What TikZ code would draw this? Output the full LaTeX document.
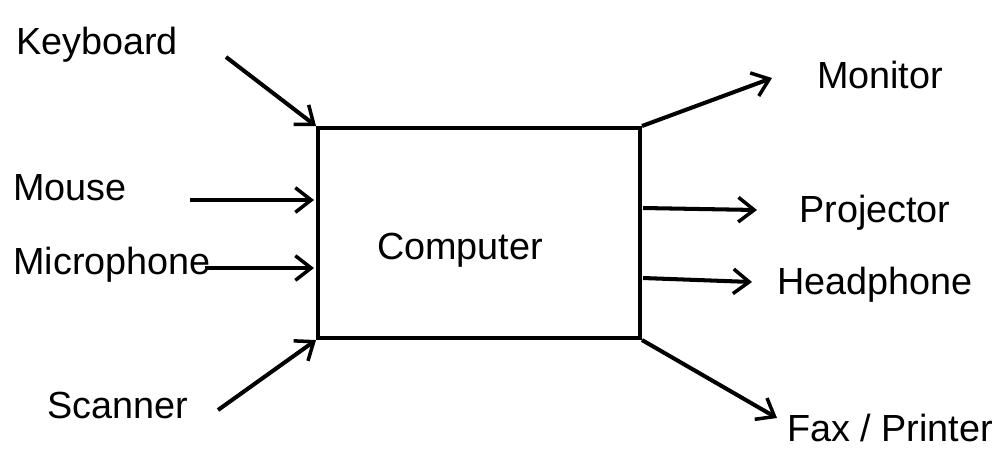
\documentclass[tikz,border=0pt]{standalone}
\usepackage{fontspec}
\setmainfont{Liberation Sans}
\usetikzlibrary{arrows.meta}
\begin{document}
\begin{tikzpicture}[x=0.02cm,y=-0.02cm,
  lbl/.style={font=\fontsize{21.5}{25}\selectfont, inner sep=0pt},
  conn/.style={line width=2.3pt, -{Straight Barb[length=9pt,width=14pt,line width=2pt]}},
  box/.style={draw, line width=2.3pt, minimum width=6.44cm, minimum height=4.2cm, inner sep=0pt}]
\useasboundingbox (0,0) rectangle (999,458);
\node[box] (comp) at (479,233) {};
\node[lbl] (comptext) at (460,250) {Computer};
\node[lbl] (keyboard) at (97,45) {Keyboard};
\node[lbl] (mouse) at (70,188) {Mouse};
\node[lbl] (mic) at (112,265) {Microphone};
\node[lbl] (scanner) at (118,405) {Scanner};
\node[lbl] (monitor) at (880,75) {Monitor};
\node[lbl] (projector) at (875,213) {Projector};
\node[lbl] (headphone) at (875,285) {Headphone};
\node[lbl] (fax) at (890,428) {Fax / Printer};
\coordinate (kbs) at (226,57);
\coordinate (ms) at (190,200);
\coordinate (mis) at (205,268);
\coordinate (scs) at (218,410);
\coordinate (moe) at (772,78);
\coordinate (pre) at (757,210);
\coordinate (hpe) at (752,282);
\coordinate (fxe) at (777,418);
\coordinate (pjs) at (643,208);
\coordinate (hps) at (643,278);
\coordinate (mie) at (314,268);
\coordinate (mse) at (314,200);
\draw[conn] (kbs) -- (comp.north west);
\draw[conn] (ms) -- (mse);
\draw[conn] (mis) -- (mie);
\draw[conn] (scs) -- (comp.south west);
\draw[conn] (comp.north east) -- (moe);
\draw[conn] (pjs) -- (pre);
\draw[conn] (hps) -- (hpe);
\draw[conn] (comp.south east) -- (fxe);
\end{tikzpicture}
\end{document}
